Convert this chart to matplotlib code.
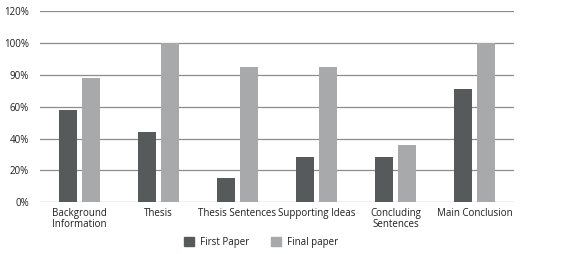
import matplotlib
matplotlib.use("Agg")
import matplotlib.pyplot as plt
import numpy as np
from matplotlib.patches import Patch

categories = ["Background\nInformation", "Thesis", "Thesis Sentences",
              "Supporting Ideas", "Concluding\nSentences", "Main Conclusion"]
first_paper = [58, 44, 15, 28.5, 28.5, 71]
final_paper = [78, 100, 85, 85, 36, 100]
ytick_values = [0, 20, 40, 60, 80, 100, 120]
ytick_labels = ["0%", "20%", "40%", "60%", "90%", "100%", "120%"]
series_names = ["First Paper", "Final paper"]

dark = "#575a5b"
light = "#a7a9aa"
textc = "#1e1e1e"

plt.rcParams['font.family'] = ['Open Sans', 'DejaVu Sans']

fig = plt.figure(figsize=(5.65, 2.54), dpi=100)
ax = fig.add_axes([40/565, 1-202.3/254, 474/565, (202.3-11)/254])

x = np.arange(len(categories))
w = 0.232
off = 0.142
ax.bar(x - off, first_paper, width=w, color=dark, zorder=3)
ax.bar(x + off, final_paper, width=w, color=light, zorder=3)

ax.set_xlim(-0.5, len(categories) - 0.5)
ax.set_ylim(0, 120)
ax.set_yticks(ytick_values)
ax.set_yticklabels(ytick_labels, fontsize=7, color=textc)
ax.set_xticks(x)
ax.set_xticklabels(categories, fontsize=7, color=textc, linespacing=1.0)
ax.tick_params(axis='both', length=0)
ax.tick_params(axis='x', pad=4)
ax.tick_params(axis='y', pad=8)
ax.grid(axis='y', color="#8c8c8c", linewidth=0.9, zorder=0)
for s in ax.spines.values():
    s.set_visible(False)

handles = [Patch(color=dark), Patch(color=light)]
fig.legend(handles, series_names, loc='center', bbox_to_anchor=(261/565, 1-242/254),
           ncol=2, frameon=False, fontsize=7, handlelength=1.1, handleheight=1.1,
           columnspacing=2.2, handletextpad=0.6, labelcolor=textc)

fig.savefig("out.png", dpi=100)
